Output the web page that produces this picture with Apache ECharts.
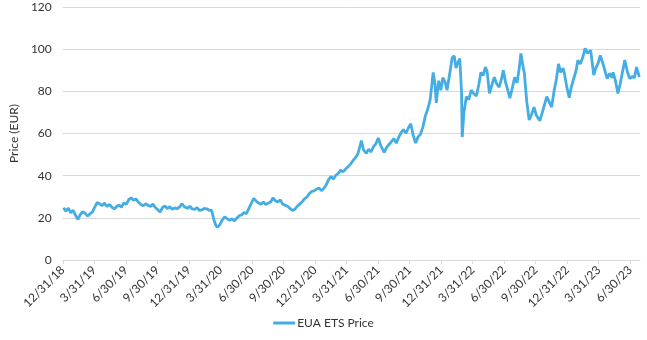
<!DOCTYPE html>
<html>
<head>
<meta charset="utf-8">
<script src="https://cdn.jsdelivr.net/npm/echarts@6/dist/echarts.min.js"></script>
<style>
  html, body { margin: 0; padding: 0; background: #fff; }
  #chart { width: 647px; height: 340px; }
</style>
</head>
<body>
<div id="chart"></div>
<script>
const seriesName = 'EUA ETS Price';
const yAxisName = 'Price (EUR)';
const startDate = '2018-12-31';
const tickLabels = ['12/31/18','3/31/19','6/30/19','9/30/19','12/31/19','3/31/20','6/30/20','9/30/20','12/31/20','3/31/21','6/30/21','9/30/21','12/31/21','3/31/22','6/30/22','9/30/22','12/31/22','3/31/23','6/30/23'];
const yTicks = [0, 20, 40, 60, 80, 100, 120];

const dates = [
'2019-01-02','2019-01-09','2019-01-16','2019-01-23','2019-01-30','2019-02-06','2019-02-13','2019-02-20','2019-02-27','2019-03-06','2019-03-13','2019-03-20','2019-03-27','2019-04-03','2019-04-10','2019-04-17','2019-04-24','2019-05-01','2019-05-08','2019-05-15','2019-05-22','2019-05-29','2019-06-05','2019-06-12','2019-06-19','2019-06-26','2019-07-03','2019-07-10','2019-07-17','2019-07-24','2019-07-31','2019-08-07','2019-08-14','2019-08-21','2019-08-28','2019-09-04','2019-09-11','2019-09-18','2019-09-25','2019-10-02','2019-10-09','2019-10-16','2019-10-23','2019-10-30','2019-11-06','2019-11-13','2019-11-20','2019-11-27','2019-12-04','2019-12-11','2019-12-18','2019-12-27',
'2020-01-03','2020-01-10','2020-01-17','2020-01-24','2020-01-31','2020-02-07','2020-02-14','2020-02-21','2020-02-28','2020-03-06','2020-03-13','2020-03-18','2020-03-23','2020-03-30','2020-04-06','2020-04-13','2020-04-20','2020-04-27','2020-05-04','2020-05-11','2020-05-18','2020-05-25','2020-06-01','2020-06-08','2020-06-15','2020-06-22','2020-06-29','2020-07-06','2020-07-13','2020-07-20','2020-07-27','2020-08-03','2020-08-10','2020-08-17','2020-08-24','2020-08-31','2020-09-07','2020-09-14','2020-09-21','2020-09-28','2020-10-05','2020-10-12','2020-10-19','2020-10-26','2020-11-02','2020-11-09','2020-11-16','2020-11-23','2020-11-30','2020-12-07','2020-12-14','2020-12-21','2020-12-28',
'2021-01-04','2021-01-11','2021-01-18','2021-01-25','2021-02-01','2021-02-08','2021-02-15','2021-02-22','2021-03-01','2021-03-08','2021-03-15','2021-03-22','2021-03-29','2021-04-06','2021-04-13','2021-04-20','2021-04-27','2021-05-04','2021-05-10','2021-05-14','2021-05-20','2021-05-28','2021-06-04','2021-06-11','2021-06-18','2021-06-25','2021-07-02','2021-07-09','2021-07-19','2021-07-26','2021-08-02','2021-08-09','2021-08-16','2021-08-23','2021-08-30','2021-09-06','2021-09-13','2021-09-20','2021-09-27','2021-10-04','2021-10-11','2021-10-18','2021-10-25','2021-11-01','2021-11-08','2021-11-15','2021-11-22','2021-11-29','2021-12-03','2021-12-08','2021-12-13','2021-12-17','2021-12-21','2021-12-24','2021-12-30',
'2022-01-05','2022-01-12','2022-01-17','2022-01-24','2022-02-01','2022-02-07','2022-02-12','2022-02-17','2022-02-23','2022-02-28','2022-03-02','2022-03-07','2022-03-14','2022-03-21','2022-03-28','2022-04-04','2022-04-12','2022-04-19','2022-04-25','2022-05-02','2022-05-08','2022-05-13','2022-05-20','2022-05-27','2022-06-03','2022-06-10','2022-06-17','2022-06-24','2022-06-29','2022-07-06','2022-07-13','2022-07-18','2022-07-25','2022-08-01','2022-08-08','2022-08-15','2022-08-19','2022-08-24','2022-08-29','2022-09-05','2022-09-12','2022-09-19','2022-09-26','2022-10-03','2022-10-13','2022-10-20','2022-10-27','2022-11-02','2022-11-09','2022-11-16','2022-11-23','2022-11-30','2022-12-06','2022-12-12','2022-12-19','2022-12-23','2022-12-30',
'2023-01-06','2023-01-12','2023-01-19','2023-01-26','2023-01-31','2023-02-07','2023-02-14','2023-02-21','2023-02-28','2023-03-09','2023-03-14','2023-03-18','2023-03-24','2023-03-31','2023-04-06','2023-04-13','2023-04-20','2023-04-26','2023-05-03','2023-05-10','2023-05-13','2023-05-20','2023-05-27','2023-06-02','2023-06-09','2023-06-16','2023-06-23','2023-06-30','2023-07-07','2023-07-14','2023-07-20','2023-07-28'
];

const prices = [
24.8,23.2,24.6,22.4,23.6,21.2,19.2,21.6,22.9,22.1,20.9,21.9,22.8,25.2,27.3,26.6,25.8,27.0,25.4,26.3,25.1,24.2,25.4,26.1,25.0,27.1,26.4,28.6,29.5,28.3,29.0,27.4,26.4,25.7,26.7,25.9,25.4,26.5,24.9,23.9,22.7,24.9,25.7,24.4,25.3,24.0,24.7,24.3,25.1,26.7,25.3,24.5,
25.5,24.2,24.0,24.8,23.5,23.8,24.5,24.3,23.6,23.5,19.0,16.5,15.5,16.8,19.0,20.5,19.6,18.8,19.5,18.6,19.8,21.0,21.4,22.5,22.0,24.5,26.8,29.2,28.0,27.0,26.5,27.5,26.3,27.0,27.5,29.5,28.0,27.6,28.5,26.5,26.0,25.5,24.5,23.5,24.0,25.5,26.5,27.5,29.0,29.8,31.5,32.5,32.8,
33.6,34.2,32.9,33.9,35.6,38.1,39.6,38.4,40.2,41.1,42.6,41.8,43.1,44.4,45.6,47.2,48.6,50.4,54.1,56.6,52.3,50.6,52.6,51.2,53.8,55.2,57.9,54.2,51.0,53.4,54.8,56.1,57.6,55.4,58.2,60.4,61.9,60.1,62.6,64.6,59.2,55.5,58.4,59.6,63.0,68.2,71.5,75.8,81.5,89.0,83.5,74.5,81.0,85.0,80.5,
86.5,84.0,80.5,87.5,96.0,96.8,91.0,93.5,95.5,80.0,58.3,70.0,77.5,76.0,80.6,79.0,77.8,83.0,89.0,87.5,91.5,89.5,79.0,83.0,86.7,83.5,82.0,86.0,90.0,84.0,80.0,76.8,81.5,86.7,84.0,92.0,98.0,93.0,88.6,75.0,66.4,69.0,72.5,68.5,66.0,70.0,74.0,77.5,75.0,72.5,80.0,86.0,93.0,89.0,91.0,88.6,82.0,
77.0,82.0,86.0,90.0,94.8,93.0,96.0,100.4,98.0,99.5,93.0,87.7,91.0,93.5,97.0,93.5,89.5,86.0,88.5,86.5,89.0,85.0,79.0,83.0,89.0,94.8,89.5,86.0,87.0,86.5,91.5,86.7
];

const DAY = 86400000;
const t0 = Date.parse(startDate + 'T00:00:00Z');
const dayOf = d => Math.round((Date.parse(d + 'T00:00:00Z') - t0) / DAY);
const quarter = 1461 / 16; // average quarter length in days
const xMax = dayOf('2023-07-30');

const chart = echarts.init(document.getElementById('chart'), null, { renderer: 'canvas' });
const font = 'Lato, "Open Sans", sans-serif';
const textColor = '#333333';
const gridColor = '#d9d9d9';

chart.setOption({
  animation: false,
  backgroundColor: '#fff',
  textStyle: { fontFamily: font },
  grid: { left: 49, right: 7, top: 7, bottom: 80, containLabel: false },
  xAxis: {
    type: 'value',
    min: 0,
    max: xMax,
    interval: quarter,
    splitLine: { show: false },
    axisLine: { show: true, lineStyle: { color: gridColor, width: 1 } },
    axisTick: { show: true, length: 4, lineStyle: { color: gridColor } },
    axisLabel: {
      rotate: 45,
      margin: 8,
      color: textColor,
      fontSize: 12,
      fontFamily: font,
      showMaxLabel: false,
      formatter: v => {
        const k = Math.round(v / quarter);
        if (Math.abs(v - k * quarter) > 0.5) return '';
        return tickLabels[k] || '';
      }
    }
  },
  yAxis: {
    type: 'value',
    min: yTicks[0],
    max: yTicks[yTicks.length - 1],
    interval: yTicks[1] - yTicks[0],
    name: yAxisName,
    nameLocation: 'middle',
    nameRotate: 90,
    nameGap: 33,
    nameTextStyle: { color: textColor, fontSize: 12, fontFamily: font },
    axisLine: { show: false },
    axisTick: { show: false },
    axisLabel: { color: textColor, fontSize: 12, margin: 11, fontFamily: font },
    splitLine: { show: true, lineStyle: { color: gridColor, width: 1 } }
  },
  legend: {
    bottom: 6,
    left: 'center',
    icon: 'rect',
    itemWidth: 22,
    itemHeight: 3,
    itemGap: 10,
    textStyle: { color: textColor, fontSize: 12, fontFamily: font, padding: [0, 0, 0, -3] },
    data: [seriesName]
  },
  series: [{
    name: seriesName,
    type: 'line',
    showSymbol: false,
    symbol: 'none',
    lineStyle: { color: '#44ade3', width: 2.8 },
    itemStyle: { color: '#44ade3' },
    data: dates.map((d, i) => [dayOf(d), prices[i]])
  }]
});
</script>
</body>
</html>
